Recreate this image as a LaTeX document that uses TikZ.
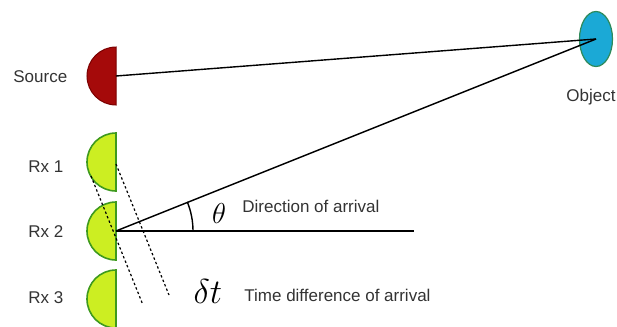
\documentclass[tikz,border=0pt]{standalone}
\usepackage{fontspec}
\setmainfont{Liberation Sans}
\usetikzlibrary{shapes.geometric}
\definecolor{srcred}{HTML}{A50A0A}
\definecolor{srcedge}{HTML}{7A0000}
\definecolor{rxfill}{HTML}{CCEE22}
\definecolor{rxedge}{HTML}{3E9A1E}
\definecolor{objfill}{HTML}{1BA9D6}
\definecolor{objedge}{HTML}{2E8A5A}
\definecolor{txt}{HTML}{333333}
\tikzset{
  lbl/.style={text=txt, font=\fontsize{8.5}{10}\selectfont, inner sep=0pt},
  conn/.style={line width=0.7pt, black},
  wave/.style={line width=0.6pt, dash pattern=on 1.2pt off 1.2pt},
  srcshape/.style={fill=srcred, draw=srcedge, line width=0.5pt},
  rxshape/.style={fill=rxfill, draw=rxedge, line width=0.8pt}
}
\begin{document}
\begin{tikzpicture}[x=0.5pt,y=-0.5pt]
\useasboundingbox (0,0) rectangle (617,327);
% centers
\coordinate (src) at (116,76);
\coordinate (rx1) at (116,162);
\coordinate (rx2) at (116,231);
\coordinate (rx3) at (116,299);
\coordinate (hend) at (414,231);
% shapes
\draw[srcshape] (116,47) arc[start angle=270, end angle=90, radius=29] -- cycle;
\draw[rxshape] (116,133) arc[start angle=270, end angle=90, radius=29] -- cycle;
\draw[rxshape] (116,202) arc[start angle=270, end angle=90, radius=29] -- cycle;
\draw[rxshape] (116,270) arc[start angle=270, end angle=90, radius=29] -- cycle;
\node[ellipse, fill=objfill, draw=objedge, line width=0.6pt, minimum width=16.5pt, minimum height=27.5pt, inner sep=0pt] (obj) at (596,39) {};
% labels
\node[lbl, anchor=west] (srclbl) at (13,77) {Source};
\node[lbl] (objlbl) at (591,97) {Object};
\node[lbl, anchor=west] (rx1lbl) at (28,167) {Rx 1};
\node[lbl, anchor=west] (rx2lbl) at (28,232) {Rx 2};
\node[lbl, anchor=west] (rx3lbl) at (28,298) {Rx 3};
\node[lbl, anchor=west] (doa) at (242,206) {Direction of arrival};
\node[lbl, anchor=west] (tdoa) at (244,295) {Time difference of arrival};
\node[inner sep=0pt, font=\fontsize{14}{16}\selectfont] (theta) at (219,213) {$\theta$};
\node[inner sep=0pt, font=\fontsize{19}{22}\selectfont] (dt) at (208,291) {$\delta t$};
% connectors
\draw[conn] (src) -- (obj.center);
\draw[conn] (rx2) -- (obj.center);
\draw[conn] (rx2) -- (hend);
\draw[conn] ([shift={(77,0)}]rx2) arc[start angle=0, end angle=-22.2, radius=77];
% wavefronts
\coordinate (w1a) at (91,176);
\coordinate (w1b) at (143,305);
\coordinate (w2a) at (116,164);
\coordinate (w2b) at (169,295);
\draw[wave] (w1a) -- (w1b);
\draw[wave] (w2a) -- (w2b);
\end{tikzpicture}
\end{document}
